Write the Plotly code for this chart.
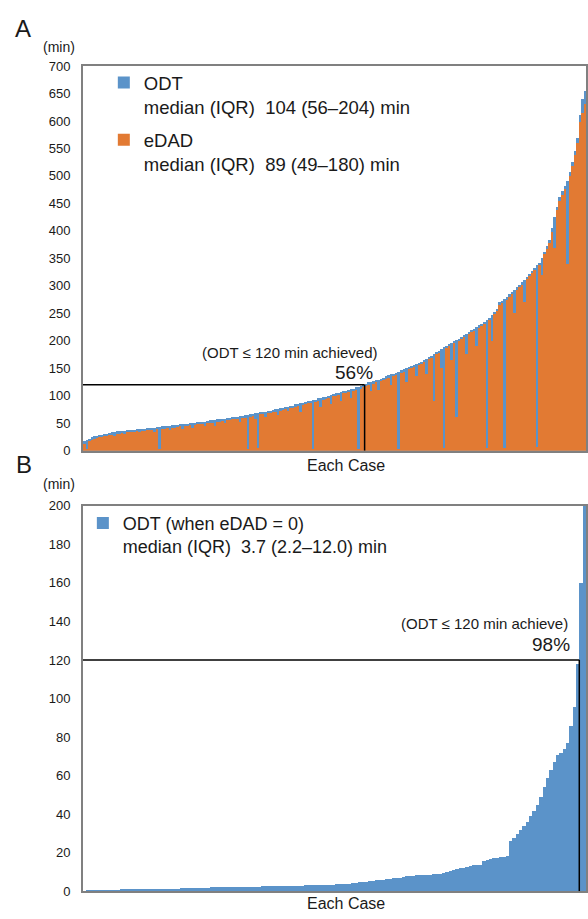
import plotly.graph_objects as go

# ---------------- data ----------------
# Panel A: each case sorted by ODT (min); eDAD overlaid
odt_a = [
    17, 20, 22, 24, 26, 27, 28, 29, 30, 31,
    32, 33, 34, 35, 35, 36, 36, 37, 37, 38,
    38, 39, 39, 40, 40, 41, 41, 42, 42, 43,
    43, 44, 44, 45, 45, 46, 46, 47, 48, 48,
    49, 49, 50, 50, 51, 52, 52, 53, 53, 54,
    55, 55, 56, 57, 57, 58, 58, 59, 60, 61,
    61, 62, 63, 63, 64, 65, 66, 67, 68, 69,
    70, 71, 71, 72, 73, 74, 75, 76, 77, 78,
    79, 80, 81, 82, 84, 85, 86, 87, 88, 90,
    91, 92, 93, 95, 96, 97, 98, 100, 101, 103,
    104, 105, 106, 108, 109, 110, 112, 113, 115, 116,
    117, 119, 122, 124, 125, 126, 128, 129, 131, 133,
    135, 137, 139, 140, 142, 144, 146, 148, 150, 152,
    154, 156, 158, 160, 162, 165, 167, 170, 173, 176,
    179, 182, 185, 188, 191, 194, 196, 199, 201, 204,
    207, 210, 213, 216, 219, 222, 225, 228, 231, 234,
    238, 242, 247, 252, 258, 270, 273, 276, 280, 285,
    289, 293, 297, 302, 306, 311, 316, 321, 327, 333,
    338, 342, 350, 362, 372, 383, 405, 426, 444, 462,
    472, 482, 491, 508, 526, 545, 569, 610, 640, 655,
]
edad_a = [
    12, 3, 18, 20, 22, 23, 24, 25, 26, 27,
    28, 29, 26, 31, 31, 32, 30, 33, 33, 34,
    34, 35, 33, 36, 36, 37, 37, 38, 34, 39,
    2, 40, 40, 41, 38, 42, 42, 43, 44, 40,
    45, 45, 46, 41, 47, 48, 48, 49, 45, 50,
    51, 51, 44, 53, 53, 54, 50, 55, 56, 57,
    57, 58, 52, 59, 60, 3, 62, 63, 58, 4,
    66, 67, 62, 68, 69, 70, 71, 64, 73, 74,
    75, 72, 77, 78, 80, 81, 70, 83, 84, 86,
    87, 3, 89, 91, 80, 93, 94, 96, 84, 99,
    100, 101, 90, 104, 105, 106, 96, 109, 111, 2,
    113, 115, 118, 120, 108, 122, 124, 110, 127, 129,
    131, 133, 120, 136, 138, 3, 142, 144, 125, 148,
    150, 152, 135, 156, 158, 161, 140, 166, 169, 91,
    175, 178, 150, 4, 187, 190, 165, 195, 61, 200,
    203, 206, 175, 212, 215, 218, 190, 224, 227, 230,
    4, 238, 200, 248, 254, 265, 268, 5, 275, 280,
    285, 250, 293, 298, 302, 270, 312, 317, 323, 329,
    6, 338, 320, 357, 367, 378, 398, 369, 438, 455,
    466, 476, 340, 500, 518, 538, 560, 598, 615, 630,
]
# Panel B: ODT when eDAD = 0, sorted
odt_b = [
    0.3, 0.5, 0.6, 0.7, 0.8, 0.8, 0.9, 0.9, 1.0, 1.0,
    1.0, 1.1, 1.1, 1.1, 1.2, 1.2, 1.2, 1.3, 1.3, 1.3,
    1.4, 1.4, 1.4, 1.5, 1.5, 1.5, 1.6, 1.6, 1.6, 1.7,
    1.7, 1.8, 1.8, 1.9, 1.9, 2.0, 2.0, 2.1, 2.2, 2.2,
    2.2, 2.3, 2.3, 2.3, 2.4, 2.4, 2.4, 2.5, 2.5, 2.5,
    2.6, 2.6, 2.6, 2.7, 2.7, 2.7, 2.8, 2.8, 2.8, 2.9,
    2.9, 3.0, 3.0, 3.0, 3.1, 3.1, 3.2, 3.2, 3.3, 3.3,
    3.4, 3.4, 3.5, 3.5, 3.6, 3.7, 3.8, 3.9, 4.0, 4.2,
    4.4, 4.6, 4.8, 5.0, 5.2, 5.4, 5.6, 5.8, 6.0, 6.2,
    6.4, 6.6, 6.8, 7.0, 7.3, 7.6, 7.9, 8.2, 8.3, 8.4,
    8.5, 8.6, 8.7, 8.8, 8.9, 9.0, 9.3, 9.6, 10.0, 10.5,
    11.0, 11.7, 12.0, 12.4, 12.8, 13.2, 13.6, 13.8, 14.0, 16.0,
    16.5, 17.0, 17.3, 17.6, 17.9, 18.0, 18.3, 26.0, 28.0, 30.0,
    32.0, 34.0, 36.0, 39.0, 42.0, 45.0, 49.0, 54.0, 59.0, 63.0,
    67.0, 71.0, 72.0, 74.0, 77.0, 86.0, 96.0, 118.0, 160.0, 205.0,
]
threshold = 120
yticks_a = list(range(0, 701, 50))
yticks_b = list(range(0, 201, 20))

legend_odt = "ODT<br>median (IQR)\u00a0 104 (56\u2013204) min"
legend_edad = "eDAD<br>median (IQR)\u00a0 89 (49\u2013180) min"
legend_b = "ODT (when eDAD = 0)<br>median (IQR)\u00a0 3.7 (2.2\u201312.0) min"
pct_a_text = "56%"
pct_b_text = "98%"

# ---------------- styling ----------------
BLUE = "#5B93C9"
ORANGE = "#E27A33"
AXIS = "#808080"
FONT = "Liberation Sans, Arial, sans-serif"
W, H = 588, 919


def fx(p):
    return p / W


def fy(p):
    return 1 - p / H


xa = list(range(len(odt_a)))
xb = list(range(len(odt_b)))
n_ok_a = sum(1 for v in odt_a if v <= threshold)
n_ok_b = sum(1 for v in odt_b if v <= threshold)

fig = go.Figure()
fig.add_trace(go.Bar(x=xa, y=odt_a, name=legend_odt, marker=dict(color=BLUE, line=dict(width=0)),
                     xaxis="x", yaxis="y", legend="legend", legendgroup="odt"))
fig.add_trace(go.Bar(x=xa, y=edad_a, name=legend_edad, marker=dict(color=ORANGE, line=dict(width=0)),
                     xaxis="x", yaxis="y", legend="legend", legendgroup="edad"))
fig.add_trace(go.Bar(x=xb, y=odt_b, name=legend_b, marker=dict(color=BLUE, line=dict(width=0)),
                     xaxis="x2", yaxis="y2", legend="legend2", legendgroup="b"))

xdom = [fx(83), fx(587)]
axis_common = dict(showline=True, linecolor=AXIS, linewidth=1.5, mirror=True,
                   showgrid=False, zeroline=False)
fig.update_layout(
    width=W, height=H,
    margin=dict(l=0, r=0, t=0, b=0),
    paper_bgcolor="white", plot_bgcolor="white",
    barmode="overlay", bargap=0,
    font=dict(family=FONT, color="#1a1a1a"),
    xaxis=dict(domain=xdom, range=[-0.5, len(odt_a) - 0.5], showticklabels=False, ticks="",
               anchor="y", **axis_common),
    yaxis=dict(domain=[fy(451), fy(60)], range=[0, 700], tickvals=yticks_a,
               ticks="outside", ticklen=8, tickcolor="rgba(0,0,0,0)",
               tickfont=dict(size=13, family=FONT, color="#1a1a1a"), anchor="x", **axis_common),
    xaxis2=dict(domain=xdom, range=[-0.5, len(odt_b) - 0.5], showticklabels=False, ticks="",
                anchor="y2", **axis_common),
    yaxis2=dict(domain=[fy(899), fy(507)], range=[0, 200], tickvals=yticks_b,
                ticks="outside", ticklen=8, tickcolor="rgba(0,0,0,0)",
                tickfont=dict(size=13, family=FONT, color="#1a1a1a"), anchor="x2", **axis_common),
    legend=dict(x=fx(104), y=fy(58), xanchor="left", yanchor="top", valign="top",
                font=dict(size=18.5, family=FONT, color="#1a1a1a"), tracegroupgap=6,
                bgcolor="rgba(0,0,0,0)", borderwidth=0),
    legend2=dict(x=fx(83), y=fy(506), xanchor="left", yanchor="top", valign="top",
                 font=dict(size=18, family=FONT, color="#1a1a1a"),
                 bgcolor="rgba(0,0,0,0)", borderwidth=0),
)

# threshold lines
line_style = dict(color="black", width=1.5)
fig.add_shape(type="line", xref="x", yref="y", x0=-0.5, x1=n_ok_a - 0.5, y0=threshold, y1=threshold, line=line_style)
fig.add_shape(type="line", xref="x", yref="y", x0=n_ok_a - 0.5, x1=n_ok_a - 0.5, y0=0, y1=threshold, line=line_style)
fig.add_shape(type="line", xref="x2", yref="y2", x0=-0.5, x1=n_ok_b - 0.5, y0=threshold, y1=threshold, line=line_style)
fig.add_shape(type="line", xref="x2", yref="y2", x0=n_ok_b - 0.5, x1=n_ok_b - 0.5, y0=0, y1=threshold, line=line_style)

def ann(text, x, y, size, xanchor="center"):
    fig.add_annotation(text=text, x=fx(x), y=fy(y), xref="paper", yref="paper",
                       xanchor=xanchor, yanchor="middle", showarrow=False,
                       font=dict(size=size, family=FONT, color="#1a1a1a"))

ann("A", 23, 22, 24)
ann("B", 24, 465, 24)
ann("(min)", 59, 41, 14)
ann("(min)", 59, 485, 14)
ann("Each Case", 347, 466, 16)
ann("Each Case", 347, 911, 16)
ann("(ODT \u2264 120 min achieved)", 290, 351, 15)
ann(pct_a_text, 355, 372, 19)
ann("(ODT \u2264 120 min achieve)", 571, 627, 15, xanchor="right")
ann(pct_b_text, 573, 648, 19, xanchor="right")

fig.write_html("out.html", config={"displayModeBar": False},
               post_script="document.body.style.margin='0';document.body.style.overflow='hidden';")
